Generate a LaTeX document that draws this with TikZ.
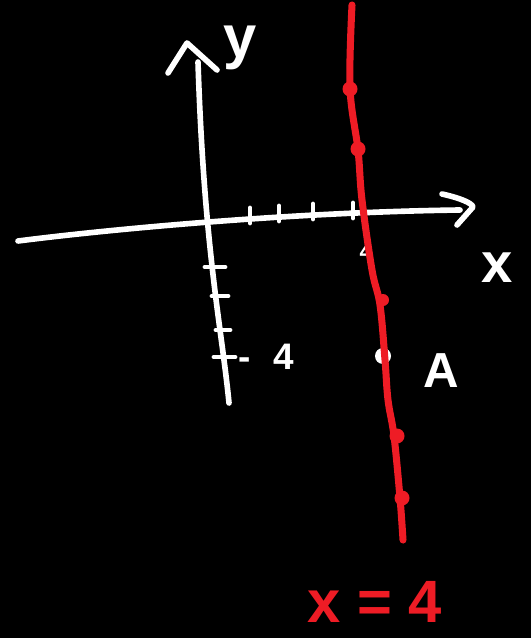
\documentclass[tikz,border=0pt]{standalone}
\usepackage{fontspec}
\setmainfont{Liberation Sans}
\usetikzlibrary{positioning}
\definecolor{Pen}{HTML}{EE1C25}
\tikzset{
  chalk/.style={draw=white, line width=3.2pt, line cap=round, line join=round},
  tickmark/.style={chalk, line width=2.8pt},
  redpen/.style={draw=Pen, line width=4pt, line cap=round, line join=round},
  handlbl/.style={text=#1, inner sep=0pt},
  handlbl/.default={white},
}
\begin{document}
\begin{tikzpicture}[x=0.02cm, y=-0.02cm]
  \fill[black] (0,0) rectangle (531,638);
  \useasboundingbox (0,0) rectangle (531,638);
  % axes
  \coordinate (xstart) at (18,241);
  \coordinate (xend) at (460,210);
  \coordinate (ystart) at (229,403);
  \coordinate (yend) at (198,62);
  \draw[chalk] (xstart) .. controls (120,228) and (300,212) .. (xend);
  \draw[chalk] (442,194) .. controls (460,198) and (472,203) .. (473,207) -- (457,225);
  \draw[chalk] (ystart) .. controls (222,330) and (204,250) .. (yend);
  \draw[chalk] (168,73) -- (187,43) -- (217,70);
  % ticks on the axes
  \foreach \tx/\ty in {250/216, 279/214, 313/212, 353/211}
    \draw[tickmark] (\tx,\ty-8) -- (\tx,\ty+7);
  \foreach \tx/\ty/\tl in {205/267/20, 212/296/16, 216/330/14, 214/357/21}
    \draw[tickmark] (\tx,\ty) -- (\tx+\tl,\ty);
  \node[handlbl, font=\fontsize{34}{34}\selectfont\bfseries] (ylbl) at (240,48) {y};
  \node[handlbl, font=\fontsize{32}{32}\selectfont\bfseries] (xlbl) at (497,268) {x};
  \node[handlbl, font=\fontsize{13}{13}\selectfont\bfseries] (xfour) at (366,252) {4};
  \node[handlbl, font=\fontsize{21}{21}\selectfont\bfseries] (yfour) at (266,357) {- \,\,4};
  % point A
  \fill[white] (383,356) circle (8);
  \node[handlbl, font=\fontsize{28}{28}\selectfont\bfseries] (Albl) at (441,371) {A};
  % the line x = 4
  \draw[redpen] plot[smooth, tension=0.6] coordinates {(352,5) (350,88) (358,150) (362,200) (372,270) (380,305) (385,360) (388,400) (394,436) (400,498) (403,540)};
  \foreach \dx/\dy in {350/89, 358/149, 397/436, 402/498}
    \fill[Pen] (\dx,\dy) circle (7.5);
  \fill[Pen] (383,300) circle (6);
  \node[handlbl=Pen, font=\fontsize{34}{34}\selectfont\bfseries] (eqn) at (375,602) {x = 4};
\end{tikzpicture}
\end{document}
